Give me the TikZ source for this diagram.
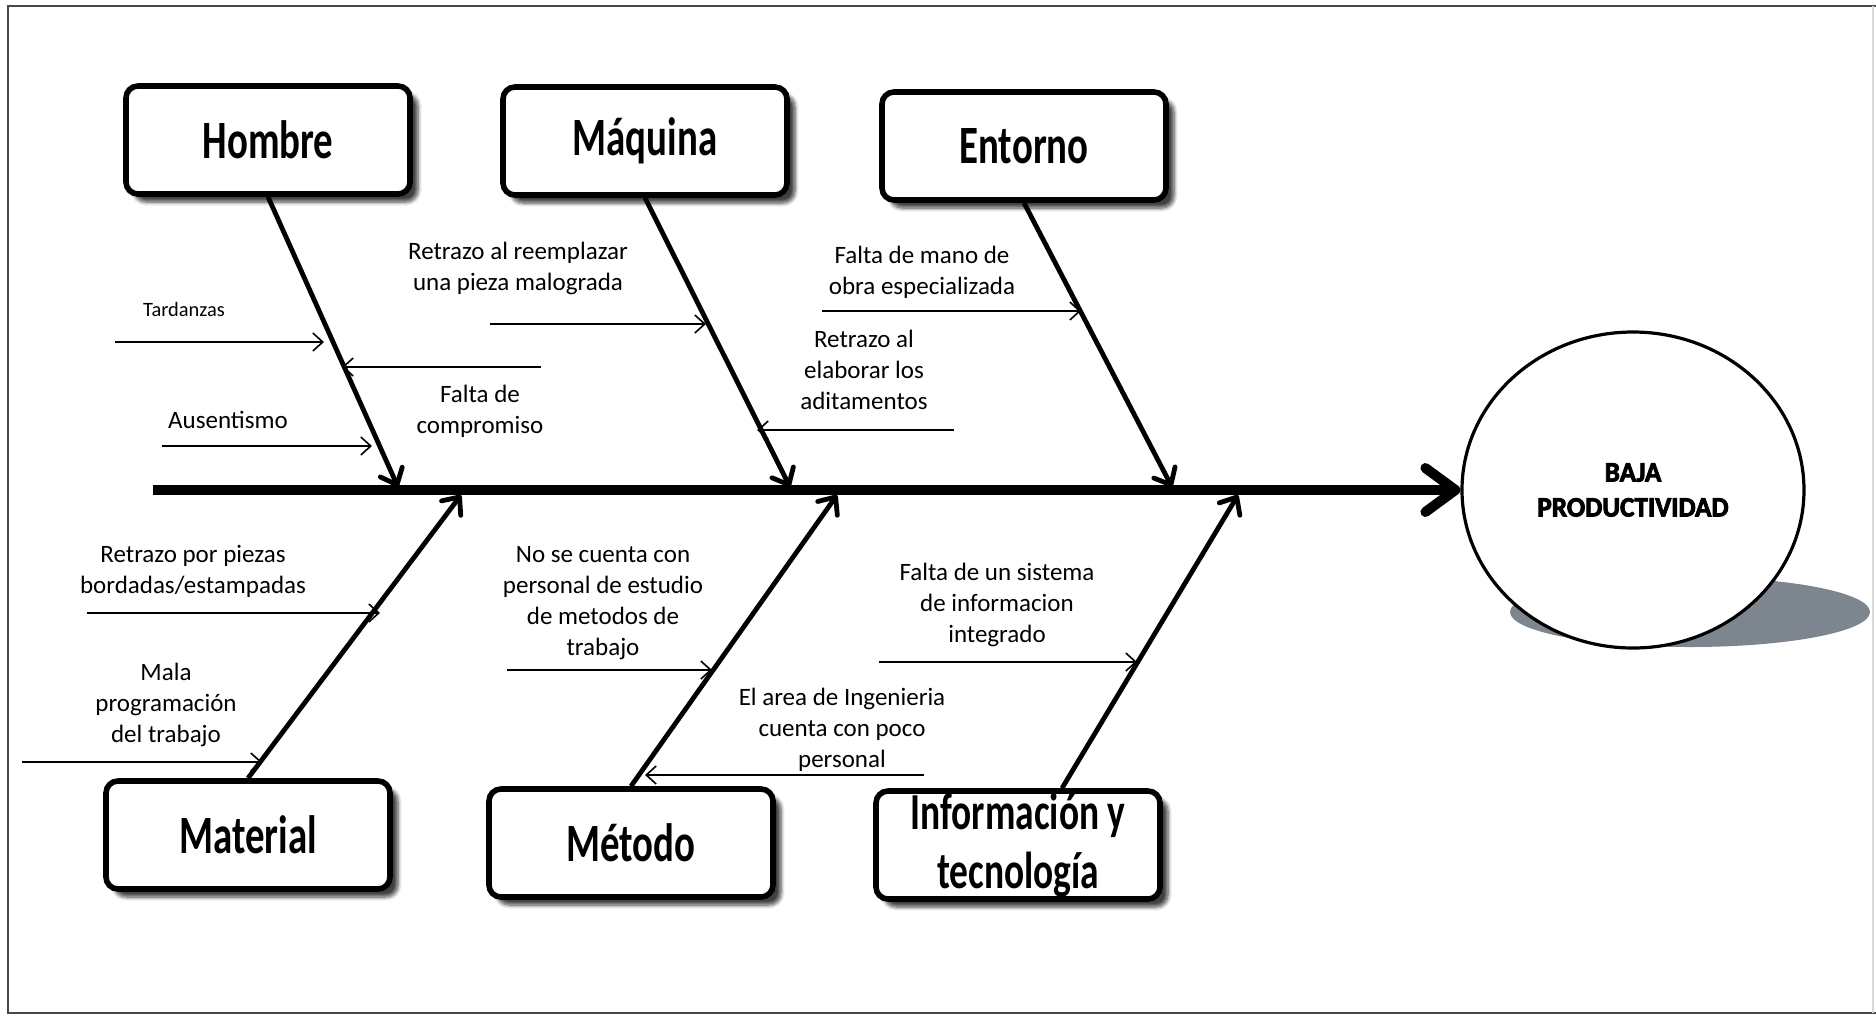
\documentclass[tikz,border=0pt]{standalone}
\usepackage{fontspec}
\setmainfont{Carlito}
\newfontfamily\titlefont[FakeStretch=0.72]{Carlito}
\newfontfamily\efectofont[FakeBold=3, FakeStretch=0.97]{Carlito}
\usetikzlibrary{arrows.meta, shapes.geometric, shadows.blur}

\definecolor{marco}{RGB}{75,68,82}
\definecolor{sombra}{RGB}{125,134,143}

\begin{document}
\begin{tikzpicture}[x=0.5pt, y=-0.5pt,
    categoria/.style={draw, line width=2.8pt, rounded corners=6pt, fill=white,
      minimum width=142pt, minimum height=54pt, align=center,
      font=\titlefont\bfseries\fontsize{27}{30}\selectfont,
      blur shadow={shadow xshift=4pt, shadow yshift=-4pt, shadow blur steps=6, shadow opacity=75}},
    causa/.style={align=center, font=\fontsize{12.5}{15.5}\selectfont},
    efecto/.style={ellipse, draw, line width=1.6pt, fill=white, inner sep=0pt,
      minimum width=171pt, minimum height=158pt, align=center,
      font=\efectofont\bfseries\fontsize{14}{17.5}\selectfont},
    espina/.style={line width=5pt, -{Straight Barb[round, length=15pt, width=22pt]}},
    hueso/.style={line width=2.4pt, -{Straight Barb[round, length=7pt, width=12pt]}},
    flecha/.style={line width=0.8pt, -{Straight Barb[length=5pt, width=9pt]}}
  ]
  \useasboundingbox (0,0) rectangle (1876,1025);
  % marco
  \draw[marco, line width=1pt] (1876,6) -- (8,6) -- (8,1013) -- (1876,1013);
  \draw[black!15, line width=0.6pt] (1873,6) -- (1873,1013);

  % efecto
  \fill[sombra] (1690,612) ellipse [x radius=180, y radius=35];
  \node[efecto] (efecto) at (1633,490) {BAJA\\PRODUCTIVIDAD};

  % categorias
  \node[categoria] (hombre) at (268,140) {Hombre};
  \node[categoria] (maquina) at (645,141) {Máquina};
  \node[categoria] (entorno) at (1024,146) {Entorno};
  \node[categoria] (material) at (248,835) {Material};
  \node[categoria] (metodo) at (631,843) {Método};
  \node[categoria, inner sep=0pt, font=\titlefont\bfseries\fontsize{26}{29.5}\selectfont] (info) at (1018,845) {Información y\\tecnología};

  % espina
  \coordinate (cola) at (153,490);
  \draw[espina] (cola) -- (efecto.west);

  \coordinate (h-fin) at (398,487);
  \coordinate (m-fin) at (790,487);
  \coordinate (e-fin) at (1172,487);
  \coordinate (mat-fin) at (461,495);
  \coordinate (met-fin) at (837,495);
  \coordinate (i-fin) at (1238,495);
  \draw[hueso] (hombre.south) -- (h-fin);
  \draw[hueso] (maquina.south) -- (m-fin);
  \draw[hueso] (entorno.south) -- (e-fin);
  \draw[hueso] (material.north) -- (mat-fin);
  \draw[hueso] (metodo.north) -- (met-fin);
  \draw[hueso] ([xshift=22pt]info.north) -- (i-fin);

  % causas
  \node[causa, font=\fontsize{10.2}{12}\selectfont] (c-tard) at (184,309) {Tardanzas};
  \node[causa] (c-ause) at (228,420) {Ausentismo};
  \node[causa] (c-comp) at (480,411) {Falta de\\compromiso};
  \node[causa] (c-reem) at (518,268) {Retrazo al reemplazar\\una pieza malograda};
  \node[causa] (c-obra) at (922,272) {Falta de mano de\\obra especializada};
  \node[causa] (c-adit) at (864,370) {Retrazo al\\elaborar los\\aditamentos};
  \node[causa] (c-piez) at (193,571) {Retrazo por piezas\\bordadas/estampadas};
  \node[causa] (c-prog) at (166,705) {Mala\\programación\\del trabajo};
  \node[causa] (c-estu) at (603,603) {No se cuenta con\\personal de estudio\\de metodos de\\trabajo};
  \node[causa] (c-inge) at (842,730) {El area de Ingenieria\\cuenta con poco\\personal};
  \node[causa] (c-sist) at (997,605) {Falta de un sistema\\de informacion\\integrado};

  % flechas de causas
  \coordinate (t0) at (115,342);  \coordinate (t1) at (324,342);
  \coordinate (f0) at (541,367);  \coordinate (f1) at (342,367);
  \coordinate (a0) at (162,446);  \coordinate (a1) at (372,446);
  \coordinate (r0) at (490,324);  \coordinate (r1) at (706,324);
  \coordinate (d0) at (954,430);  \coordinate (d1) at (757,430);
  \coordinate (o0) at (822,311);  \coordinate (o1) at (1081,311);
  \coordinate (p0) at (87,613);   \coordinate (p1) at (380,613);
  \coordinate (g0) at (22,762);   \coordinate (g1) at (262,762);
  \coordinate (n0) at (507,670);  \coordinate (n1) at (712,670);
  \coordinate (q0) at (924,775);  \coordinate (q1) at (645,775);
  \coordinate (s0) at (879,662);  \coordinate (s1) at (1137,662);
  \foreach \a/\b in {t0/t1, f0/f1, a0/a1, r0/r1, d0/d1, o0/o1, p0/p1, g0/g1, n0/n1, q0/q1, s0/s1}
    \draw[flecha] (\a) -- (\b);
\end{tikzpicture}
\end{document}
